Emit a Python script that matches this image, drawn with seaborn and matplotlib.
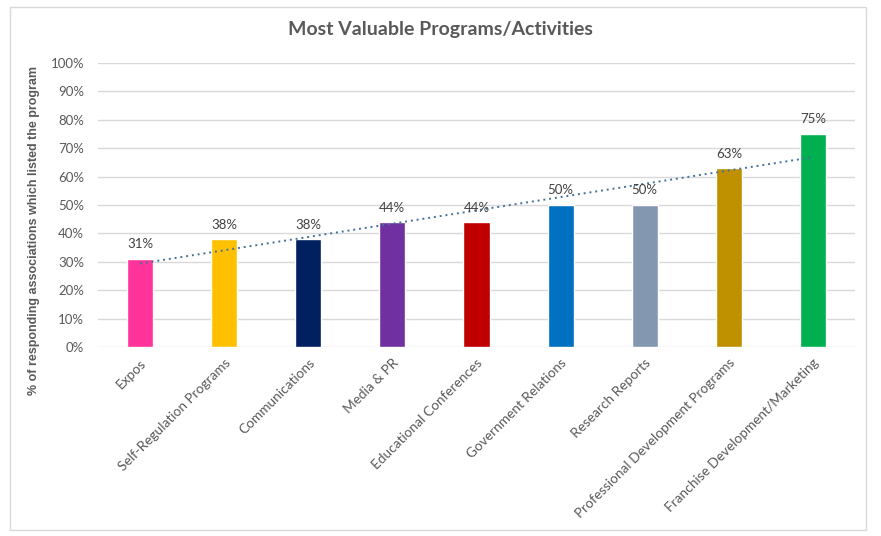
import numpy as np
import pandas as pd
import seaborn as sns
import matplotlib.pyplot as plt
from matplotlib.patches import Rectangle

# chart data
programs = ['Expos', 'Self-Regulation Programs', 'Communications', 'Media & PR',
            'Educational Conferences', 'Government Relations', 'Research Reports',
            'Professional Development Programs', 'Franchise Development/Marketing']
share = [31, 38, 38, 44, 44, 50, 50, 63, 75]
bar_colors = ['#FF3399', '#FFC000', '#002060', '#7030A0', '#C00000',
              '#0070C0', '#8497B0', '#BF9000', '#00B050']

df = pd.DataFrame({'program': programs, 'share': share})

sns.set_style('white')
plt.rcParams['font.family'] = ['Lato', 'DejaVu Sans']

fig = plt.figure(figsize=(8.81, 5.36), dpi=100)
ax = fig.add_axes([98 / 881, 1 - 347 / 536, 757 / 881, 284 / 536])

sns.barplot(data=df, x='program', y='share', hue='program', palette=bar_colors,
            width=0.31, saturation=1, legend=False, ax=ax, zorder=2)

# linear trendline like the Excel one
xs = np.arange(len(share))
k, b = np.polyfit(xs, share, 1)
ax.plot(xs, k * xs + b, ls=(0, (1, 2)), color='#44709A', lw=1.4, zorder=3)

for x, v in zip(xs, share):
    ax.text(x, v + 3, f'{v}%', ha='center', va='bottom', fontsize=9.5, color='#404040')

ax.set_ylim(0, 100)
ax.set_xlim(-0.5, len(share) - 0.5)
ax.set_yticks(range(0, 101, 10))
ax.set_yticklabels([f'{t}%' for t in range(0, 101, 10)], fontsize=9.5, color='#595959')
ax.set_xticks(xs)
ax.set_xticklabels(programs, rotation=45, ha='right', rotation_mode='anchor',
                   fontsize=9.8, color='#595959')
ax.tick_params(axis='x', length=0, pad=7)
ax.tick_params(axis='y', length=0, pad=10)
ax.grid(axis='y', color='#D9D9D9', lw=1, zorder=0)
ax.set_axisbelow(True)
for s in ax.spines.values():
    s.set_visible(False)
ax.set_xlabel('')
ax.set_ylabel('% of responding associations which listed the program', fontsize=9,
              fontweight='bold', color='#595959',
              family=['Liberation Sans', 'DejaVu Sans'])
ax.yaxis.set_label_coords(-0.077, 0.41)

fig.suptitle('Most Valuable Programs/Activities', x=440 / 881, y=1 - 30 / 536, va='center',
             fontsize=14, fontweight='bold', color='#595959')

fig.patches.append(Rectangle((10 / 881, 6 / 536), 856 / 881, 523 / 536, transform=fig.transFigure,
                             fill=False, edgecolor='#D9D9D9', lw=1))

fig.savefig('out.png', dpi=100)
